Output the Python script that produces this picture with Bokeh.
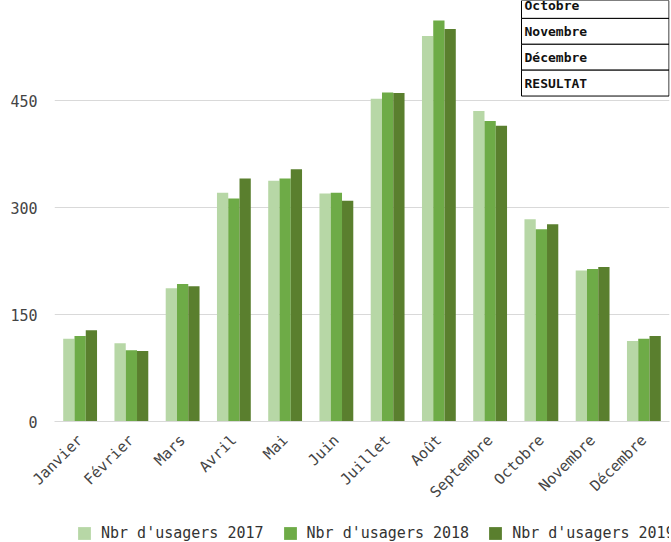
import math
from bokeh.plotting import figure
from bokeh.layouts import column
from bokeh.models import (Legend, LegendItem, BoxAnnotation, Label,
                          FixedTicker, Range1d)
from bokeh.transform import dodge
from bokeh.embed import file_html
from bokeh.resources import INLINE

months = ["Janvier", "Février", "Mars", "Avril", "Mai", "Juin", "Juillet",
          "Août", "Septembre", "Octobre", "Novembre", "Décembre"]
v2017 = [116, 110, 187, 321, 338, 320, 453, 541, 436, 284, 212, 113]
v2018 = [120, 100, 193, 313, 341, 321, 462, 563, 422, 270, 214, 116]
v2019 = [128, 99, 190, 341, 354, 310, 461, 551, 415, 277, 217, 120]
series_names = ["Nbr d'usagers 2017", "Nbr d'usagers 2018", "Nbr d'usagers 2019"]
y_ticks = [0, 150, 300, 450]
table_rows = ["Octobre", "Novembre", "Décembre", "RESULTAT"]

colors = ["#b7d7a6", "#6eab47", "#5a7f2e"]
FONT = "DejaVu Sans Mono"
W = 671
H_MAIN, H_LEG = 510, 32
FRAME_H = 423
Y_END = 591

p = figure(x_range=months, y_range=(0, Y_END), width=W, height=H_MAIN,
           output_backend="svg", toolbar_location=None,
           min_border_left=54, min_border_right=2, min_border_top=0,
           min_border_bottom=H_MAIN - FRAME_H)
p.outline_line_color = None
p.xgrid.grid_line_color = None
p.ygrid.grid_line_color = "#d9d9d9"
p.yaxis.ticker = FixedTicker(ticks=y_ticks)
p.yaxis.axis_line_color = None
p.yaxis.major_tick_line_color = None
p.yaxis.minor_tick_line_color = None
p.yaxis.major_label_standoff = 11
p.xaxis.axis_line_color = "#d9d9d9"
p.xaxis.major_tick_line_color = None
p.xaxis.minor_tick_line_color = None
p.xaxis.major_label_orientation = math.pi / 4
p.xaxis.major_label_standoff = 10
for ax in (p.xaxis, p.yaxis):
    ax.major_label_text_font = FONT
    ax.major_label_text_font_size = "15px"
    ax.major_label_text_color = "#444444"
p.x_range.range_padding = 0

data = dict(m=months, a=v2017, b=v2018, c=v2019)
bw = 0.22
for key, off, col in zip(["a", "b", "c"], [-bw, 0, bw], colors):
    p.vbar(x=dodge("m", off, range=p.x_range), top=key, width=bw,
           source=data, fill_color=col, line_color=None)

# overlay table in the top-right corner
px = Y_END / float(FRAME_H)
cat_px = (W - 54 - 2) / float(len(months))
row_h = 26 * px
first_bottom = Y_END - 18 * px
left_x = (521 - 54) / cat_px
right_x = len(months) - 0.5 / cat_px
for i, name in enumerate(table_rows):
    bottom = first_bottom - i * row_h
    top = Y_END if i == 0 else bottom + row_h
    p.add_layout(BoxAnnotation(left=left_x, right=right_x, bottom=bottom, top=top,
                               fill_color="white", fill_alpha=1,
                               line_color="black", line_width=1, line_alpha=1))
    cy = bottom + row_h / 2 if i > 0 else Y_END - 5 * px
    p.add_layout(Label(x=left_x, y=cy, text=name, x_offset=3,
                       text_font=FONT, text_font_style="bold",
                       text_font_size="13px", text_color="#111111",
                       text_baseline="middle"))

# legend strip below the chart (same series, bars kept out of its view)
q = figure(width=W, height=H_LEG, output_backend="svg", toolbar_location=None,
           x_range=p.x_range, y_range=Range1d(10000, 10001),
           x_axis_location=None, y_axis_location=None,
           min_border_left=0, min_border_right=0, min_border_top=0,
           min_border_bottom=0)
q.grid.visible = False
q.outline_line_color = None
leg_r = [q.vbar(x="m", top=key, width=bw, source=data, fill_color=c, line_color=None)
         for key, c in zip(["a", "b", "c"], colors)]
legend = Legend(items=[LegendItem(label=n, renderers=[r]) for n, r in zip(series_names, leg_r)],
                orientation="horizontal", location=(22, 0),
                label_text_font=FONT, label_text_font_size="15px",
                label_text_color="#333333", glyph_width=16, glyph_height=16,
                label_standoff=9, spacing=18, padding=0, margin=0,
                border_line_color=None, background_fill_color=None)
q.add_layout(legend, "center")

layout = column(p, q, spacing=0)
open("out.html", "w").write(file_html(layout, INLINE))
